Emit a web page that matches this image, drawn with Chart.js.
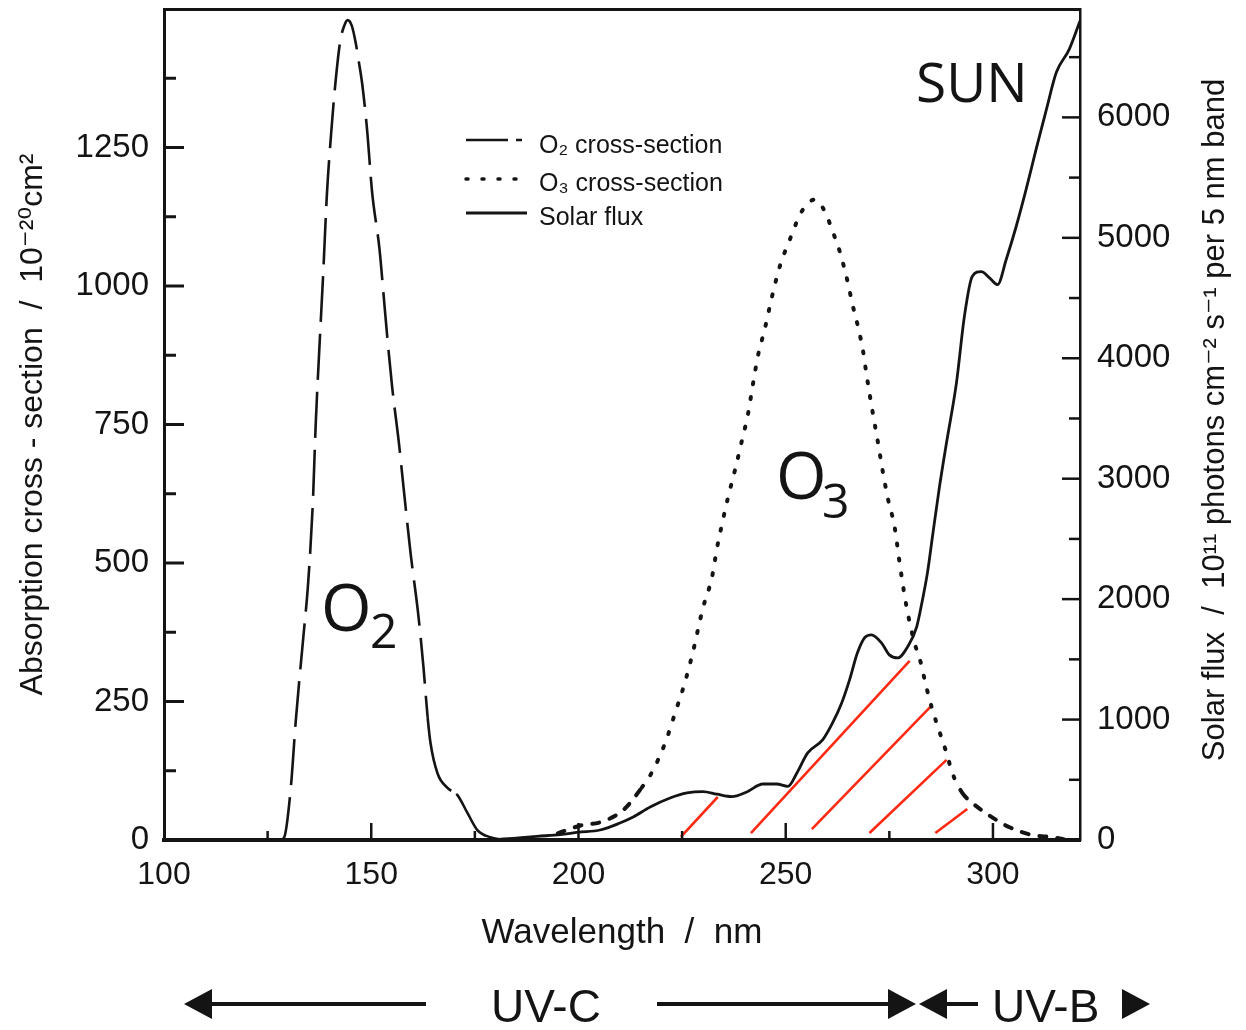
<!DOCTYPE html>
<html><head><meta charset="utf-8">
<script src="https://cdn.jsdelivr.net/npm/chart.js@4.4.1/dist/chart.umd.min.js"></script>
<style>html,body{margin:0;padding:0;background:#fff}#wrap{width:1246px;height:1030px}</style>
</head><body><div id="wrap"><canvas id="c" width="1246" height="1030"></canvas></div>
<script>
// ---- data ----
// O2 absorption cross-section (10^-20 cm^2) vs wavelength (nm)
const o2Wl  = [128, 129, 130.6, 131.8, 133.7, 134.7, 135.9, 136.6, 137.5, 138.4, 139.3, 140.3, 141.2, 142.5, 143.5, 144.3, 145.3, 146.2, 147.0, 147.8, 149.0, 150.2, 152.0, 153.0, 154.0, 155.1, 156.7, 157.8, 159.5, 161.3, 162.6, 163.6, 164.3, 166, 168.4, 170.8, 173.2, 175.6, 178.7, 182];
const o2Val = [0, 5, 95, 216, 373, 456, 607, 750, 890, 1021, 1165, 1273, 1354, 1441, 1470, 1480, 1470, 1441, 1405, 1366, 1282, 1170, 1066, 982, 897, 814, 715, 636, 517, 410, 312, 222, 175, 120, 94, 81, 49, 18, 5, 0];
// O3 absorption cross-section (10^-20 cm^2)
const o3Wl  = [195, 200.9, 205.2, 210.8, 215.3, 217.7, 220.9, 223.3, 225.7, 227.6, 230, 232.2, 233.4, 234.8, 236, 237.7, 239.4, 240.9, 242.1, 243.3, 245, 246.6, 248.6, 251, 253.9, 257, 259.4, 261.3, 263, 264.9, 266.1, 267.3, 268.6, 269.5, 271, 272.2, 273.4, 274.6, 276.3, 277.5, 279.1, 281.1, 282.3, 284, 285.2, 286.4, 288.8, 290.2, 292.6, 295, 300, 304, 309.5, 314.3, 318];
const o3Val = [12, 27, 32, 54, 95, 122, 175, 229, 285, 339, 418, 474, 526, 576, 616, 666, 720, 769, 823, 874, 924, 978, 1036, 1084, 1135, 1156, 1135, 1099, 1063, 1009, 967, 931, 885, 840, 771, 720, 666, 618, 564, 499, 423, 355, 328, 274, 240, 211, 157, 121, 85, 67, 40, 23, 9, 5, 0];
// Solar flux (10^11 photons cm^-2 s^-1 per 5 nm band)
const sunWl  = [178.5, 185, 190, 195.6, 200, 205.2, 210, 213.2, 217.3, 222.1, 226.2, 230, 233.4, 237, 240.6, 244.5, 247.8, 250.5, 252.7, 255.3, 258.9, 261.3, 263.5, 265.4, 267.3, 269, 270.7, 273.1, 275, 277, 279.4, 281.6, 283, 284.2, 285.4, 287.1, 288.8, 291.2, 293.1, 295, 297.2, 299.1, 301.1, 303.2, 305.6, 308, 310.4, 312.9, 315.3, 318.4, 321];
const sunVal = [0, 15, 30, 45, 65, 83, 141, 191, 274, 349, 391, 402, 380, 360, 399, 465, 465, 445, 557, 723, 831, 972, 1138, 1330, 1554, 1679, 1704, 1637, 1537, 1512, 1604, 1770, 1995, 2220, 2518, 2934, 3300, 3798, 4346, 4679, 4720, 4670, 4612, 4820, 5094, 5402, 5734, 6067, 6374, 6565, 6800];
// red hatch strokes (wavelength, solar-flux units): start and end points
const hatchX1 = [224.7, 241.6, 256.3, 270.2, 286.1];
const hatchY1 = [25, 58, 91, 58, 58];
const hatchX2 = [233.6, 279.9, 284.9, 288.8, 293.8];
const hatchY2 = [357, 1488, 1105, 665, 258];
// ticks
const xTickLabels = [100, 150, 200, 250, 300];
const xMinorTicks = [125, 175, 225, 275];
const leftTickLabels = [0, 250, 500, 750, 1000, 1250];
const leftMinorTicks = [125, 375, 625, 875, 1125, 1375];
const rightTickLabels = [0, 1000, 2000, 3000, 4000, 5000, 6000];
const rightMinorTicks = [500, 1500, 2500, 3500, 4500, 5500, 6500];

// ---- style ----
const FONT = "'Liberation Sans', Arial, 'DejaVu Sans', sans-serif";
const LABEL_FONT = "'Open Sans', 'Noto Sans', sans-serif";
const INK = '#141414';
const RED = '#ff2a14';

const toXY = (xs, ys) => xs.map((x, i) => ({x: x, y: ys[i]}));
const hatchData = [];
hatchX1.forEach((x, i) => {
  hatchData.push({x: x, y: hatchY1[i]}, {x: hatchX2[i], y: hatchY2[i]}, {x: hatchX2[i], y: null});
});

const setTicks = arr => scale => { scale.ticks = arr.map(v => ({value: v})); };
const fitBox = (w, h) => s => {
  if (w !== null) s.width = w;
  if (h !== null) s.height = h;
  s.paddingTop = 0; s.paddingBottom = 0; s.paddingLeft = 0; s.paddingRight = 0;
};
const plain = v => String(v);

const decor = {
  id: 'decor',
  afterDraw(chart) {
    const {ctx, chartArea: ca, scales: {x, y, y1}} = chart;
    ctx.save();
    ctx.strokeStyle = INK; ctx.fillStyle = INK; ctx.lineCap = 'butt'; ctx.setLineDash([]);
    // inward tick marks
    const hTick = (px, py, len, w) => { ctx.lineWidth = w; ctx.beginPath(); ctx.moveTo(px, py); ctx.lineTo(px + len, py); ctx.stroke(); };
    const vTick = (px, py, len, w) => { ctx.lineWidth = w; ctx.beginPath(); ctx.moveTo(px, py); ctx.lineTo(px, py - len); ctx.stroke(); };
    leftTickLabels.forEach(v => { if (v > 0) hTick(ca.left, y.getPixelForValue(v), 20, 3); });
    leftMinorTicks.forEach(v => hTick(ca.left, y.getPixelForValue(v), 12, 3));
    rightTickLabels.forEach(v => { if (v > 0) hTick(ca.right, y1.getPixelForValue(v), -18, 2.5); });
    rightMinorTicks.forEach(v => hTick(ca.right, y1.getPixelForValue(v), -11, 2.5));
    xTickLabels.forEach(v => { if (v > 100) vTick(x.getPixelForValue(v), ca.bottom, 17, 2.5); });
    xMinorTicks.forEach(v => vTick(x.getPixelForValue(v), ca.bottom, 9, 2.5));

    // right axis title (reads bottom to top)
    ctx.save();
    ctx.translate(1215, 420); ctx.rotate(-Math.PI / 2);
    ctx.font = '31px ' + FONT; ctx.textAlign = 'center'; ctx.textBaseline = 'middle';
    ctx.fillText('Solar flux  /  10\u00B9\u00B9 photons cm\u207B\u00B2 s\u207B\u00B9 per 5 nm band', 0, 0);
    ctx.restore();

    // legend
    const ds = chart.data.datasets;
    ctx.lineWidth = ds[0].borderWidth; ctx.strokeStyle = INK;
    ctx.setLineDash([42, 8, 6, 200]);
    ctx.beginPath(); ctx.moveTo(466, 140); ctx.lineTo(522, 140); ctx.stroke();
    ctx.lineWidth = 3.5; ctx.lineCap = 'round'; ctx.setLineDash([2, 14]);
    ctx.beginPath(); ctx.moveTo(466, 179); ctx.lineTo(518, 179); ctx.stroke();
    ctx.lineCap = 'butt'; ctx.setLineDash([]); ctx.lineWidth = ds[2].borderWidth;
    ctx.beginPath(); ctx.moveTo(466, 213); ctx.lineTo(527, 213); ctx.stroke();
    ctx.font = '25px ' + FONT; ctx.textAlign = 'left'; ctx.textBaseline = 'middle';
    ctx.fillText(ds[0].label, 539, 146);
    ctx.fillText(ds[1].label, 539, 184);
    ctx.fillText(ds[2].label, 539, 218);

    // big labels
    ctx.textBaseline = 'alphabetic';
    ctx.font = '55px ' + LABEL_FONT;
    ctx.fillText('SUN', 916, 102);
    ctx.font = '65px ' + LABEL_FONT; ctx.fillText('O', 776, 499);
    ctx.font = '48px ' + LABEL_FONT; ctx.fillText('3', 822, 518);
    ctx.font = '65px ' + LABEL_FONT; ctx.fillText('O', 321, 631);
    ctx.font = '48px ' + LABEL_FONT; ctx.fillText('2', 370, 648);

    // UV band row
    const ay = 1004;
    const arrowHead = (tip, dir) => {
      ctx.beginPath(); ctx.moveTo(tip, ay); ctx.lineTo(tip - dir * 28, ay - 15); ctx.lineTo(tip - dir * 28, ay + 15); ctx.closePath(); ctx.fill();
    };
    const shaft = (a, b) => { ctx.lineWidth = 4; ctx.beginPath(); ctx.moveTo(a, ay); ctx.lineTo(b, ay); ctx.stroke(); };
    arrowHead(184, -1); shaft(210, 426);
    shaft(657, 892); arrowHead(916, 1);
    arrowHead(919, -1); shaft(945, 978);
    arrowHead(1150, 1);
    ctx.font = '46px ' + FONT; ctx.textBaseline = 'alphabetic'; ctx.textAlign = 'left';
    ctx.fillText('UV-C', 491, 1022);
    ctx.fillText('UV-B', 992, 1022);
    ctx.restore();
  }
};

new Chart(document.getElementById('c'), {
  type: 'line',
  data: {
    datasets: [
      { label: 'O\u2082 cross-section', data: toXY(o2Wl, o2Val), yAxisID: 'y',
        borderColor: INK, borderWidth: 2.6, borderDash: [46, 12], pointRadius: 0, cubicInterpolationMode: 'monotone',
        segment: { borderDash: c => (c.p0.parsed.x >= 163 ? [80, 6] : undefined) } },
      { label: 'O\u2083 cross-section', data: toXY(o3Wl, o3Val), yAxisID: 'y',
        borderColor: INK, borderWidth: 4, borderDash: [2, 13], borderCapStyle: 'round', pointRadius: 0, cubicInterpolationMode: 'monotone',
        segment: { borderDash: c => ((c.p0.parsed.x >= 291 || c.p1.parsed.x <= 216) ? [7, 11] : undefined) } },
      { label: 'Solar flux', data: toXY(sunWl, sunVal), yAxisID: 'y1',
        borderColor: INK, borderWidth: 2.8, pointRadius: 0, cubicInterpolationMode: 'monotone' },
      { label: 'hatch', data: hatchData, yAxisID: 'y1',
        borderColor: RED, borderWidth: 2.6, pointRadius: 0, tension: 0, spanGaps: false }
    ]
  },
  options: {
    responsive: false, animation: false, events: [],
    layout: { padding: { left: 0, right: 0, top: 9, bottom: 0 } },
    plugins: { legend: { display: false }, tooltip: { enabled: false } },
    scales: {
      x: { type: 'linear', position: 'bottom', min: 100, max: 321, bounds: 'data',
        afterBuildTicks: setTicks(xTickLabels), afterFit: fitBox(null, 190),
        grid: { display: false, drawTicks: false },
        border: { display: true, width: 4, color: INK },
        ticks: { font: { family: FONT, size: 32 }, color: INK, padding: 16, maxRotation: 0, autoSkip: false, callback: plain },
        title: { display: true, text: 'Wavelength  /  nm', font: { family: FONT, size: 35 }, color: INK, padding: { top: 0, bottom: 76 } } },
      x2: { type: 'linear', position: 'top', min: 100, max: 321, bounds: 'data',
        afterFit: fitBox(null, 0),
        grid: { display: false, drawTicks: false },
        border: { display: true, width: 3, color: INK },
        ticks: { display: false } },
      y: { type: 'linear', position: 'left', min: 0, max: 1500, bounds: 'data',
        afterBuildTicks: setTicks(leftTickLabels), afterFit: fitBox(164, null),
        grid: { display: false, drawTicks: false },
        border: { display: true, width: 3, color: INK },
        ticks: { font: { family: FONT, size: 33 }, color: INK, padding: 15, callback: plain },
        title: { display: true, text: 'Absorption cross - section  /  10\u207B\u00B2\u2070cm\u00B2', font: { family: FONT, size: 32 }, color: INK, padding: { top: 14, bottom: 0 } } },
      y1: { type: 'linear', position: 'right', min: 0, max: 6900, bounds: 'data',
        afterBuildTicks: setTicks(rightTickLabels), afterFit: fitBox(166, null),
        grid: { display: false, drawTicks: false },
        border: { display: true, width: 2.5, color: INK },
        ticks: { font: { family: FONT, size: 33 }, color: INK, padding: 17, callback: plain } }
    }
  },
  plugins: [decor]
});
</script></body></html>
